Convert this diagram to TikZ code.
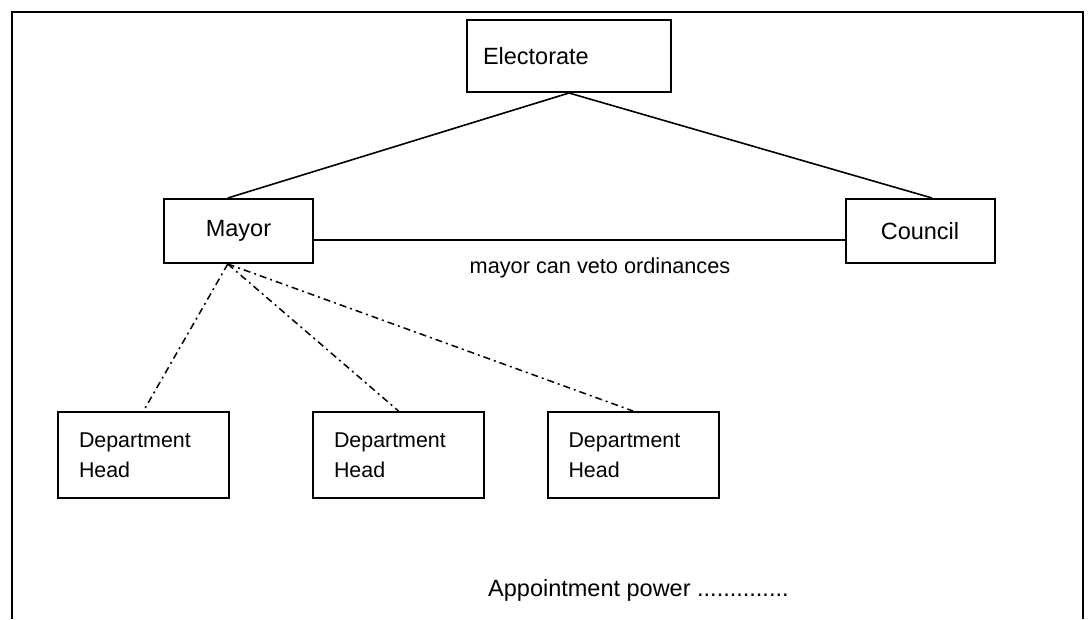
\documentclass[tikz,border=0pt]{standalone}
\usepackage{fontspec}
\setmainfont{Liberation Sans}

\begin{document}
\begin{tikzpicture}[x=1pt, y=-1pt,
	box/.style={draw=black, line width=2pt, minimum width=149pt, minimum height=64pt, inner sep=0pt, font=\fontsize{23.5}{28}\selectfont},
	topbox/.style={box, minimum width=204pt, minimum height=72pt, inner xsep=16pt, text width=172pt, align=left},
	dept/.style={draw=black, line width=2pt, inner xsep=21pt, inner ysep=0pt, text width=129pt, minimum height=86pt, align=left, font=\fontsize{21.4}{30}\selectfont},
	link/.style={draw=black, line width=1.6pt},
	appoint/.style={link, line width=1.5pt, dash pattern=on 7pt off 4pt on 2pt off 4pt}]
			\useasboundingbox (0,0) rectangle (1089,619);
			\draw[line width=2pt] (11.5,619) -- (11.5,11.5) -- (1083,11.5) -- (1083,619);
			
			\node[topbox] (elect) at (569,56) {Electorate};
			\node[box] (mayor) at (238.5,231) {Mayor};
			\node[box] (council) at (920,231) {Council};
			\node[dept] (h1) at (143.5,455) {Department\\Head};
			\node[dept] (h2) at (398.5,455) {Department\\Head};
			\node[dept] (h3) at (633,455) {Department\\Head};
			\node[font=\fontsize{21.7}{26}\selectfont] (veto) at (600,268) {mayor can veto ordinances};
			\node[anchor=west, inner sep=0pt, font=\fontsize{23.5}{28}\selectfont] (text) at (488,590) {Appointment power ..............};
			
			\path[link] (elect.south) -- (mayor.108);
			\path[link] (elect.south) -- (council.70);
			\path[link] (mayor.-7.6) -- (council.187.6);
			\path[appoint] (mayor.252) -- (h1.north);
			\path[appoint] (mayor.252) -- (h2.north);
			\path[appoint] (mayor.252) -- (h3.north);
\end{tikzpicture}
\end{document}
